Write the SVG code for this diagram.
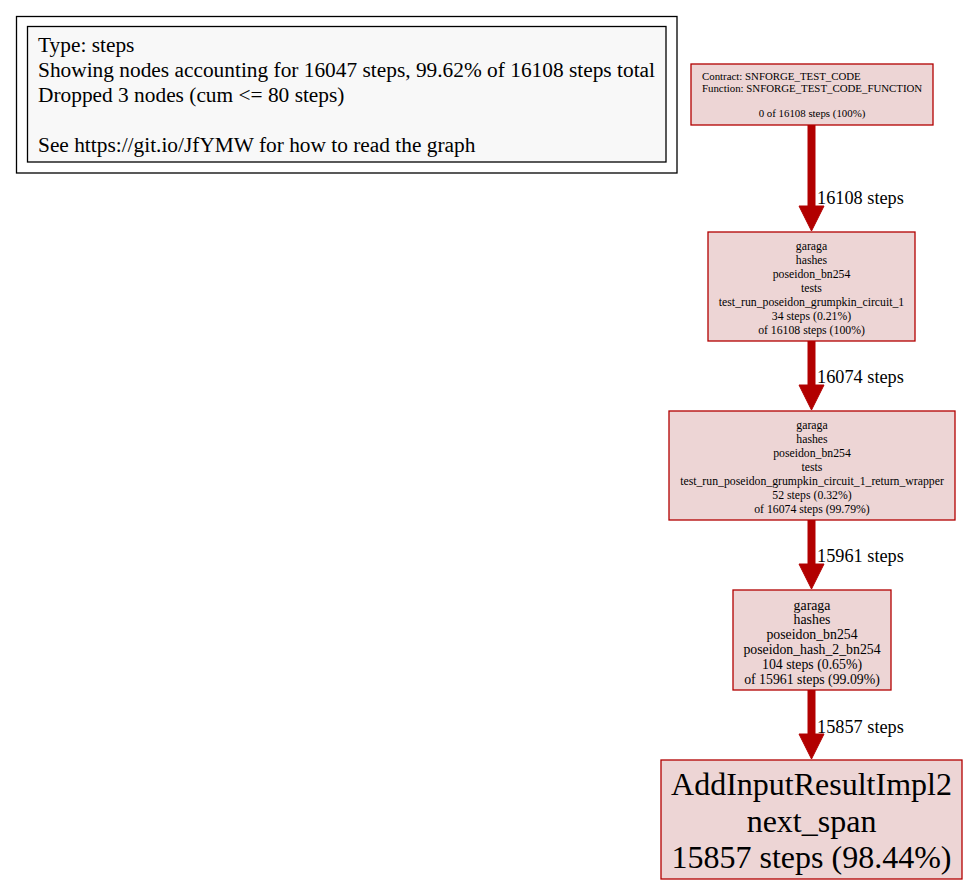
<svg xmlns="http://www.w3.org/2000/svg" width="969" height="885" viewBox="0 0 969 885">
<style>
text{font-family:"Liberation Serif","Times New Roman",serif;fill:#000}
.node rect{fill:#edd5d5;stroke:#b20000;stroke-width:1.3}
.edge line{stroke:#b20000;stroke-width:8}
.edge polygon{fill:#b20000;stroke:#b20000}
.el{font-size:18.3px}
.c{text-anchor:middle}
.f1{font-size:10.85px}
.f2{font-size:11.75px}
.f4{font-size:13.8px}
.f5{font-size:32px}
.lg{font-size:21.37px}
</style>
<rect width="969" height="885" fill="#fff"/>
<g id="legend">
<rect x="16.5" y="16.5" width="660.5" height="156.5" fill="#fff" stroke="#000" stroke-width="1.3"/>
<rect x="27.5" y="26.5" width="638.5" height="135.5" fill="#f8f8f8" stroke="#000" stroke-width="1.3"/>
<text class="lg" x="38" y="52">Type: steps</text>
<text class="lg" x="38" y="77">Showing nodes accounting for 16047 steps, 99.62% of 16108 steps total</text>
<text class="lg" x="38" y="102">Dropped 3 nodes (cum &lt;= 80 steps)</text>
<text class="lg" x="38" y="152">See https://git.io/JfYMW for how to read the graph</text>
</g>
<g id="connectors">
<g class="edge" id="e1">
<line x1="811.5" y1="125" x2="811.5" y2="207"/>
<polygon points="799,206 824,206 811.5,231"/>
<text class="el" x="817" y="204">16108 steps</text>
</g>
<g class="edge" id="e2">
<line x1="811.5" y1="341" x2="811.5" y2="386"/>
<polygon points="799,385 824,385 811.5,410"/>
<text class="el" x="817" y="383">16074 steps</text>
</g>
<g class="edge" id="e3">
<line x1="811.5" y1="520" x2="811.5" y2="565"/>
<polygon points="799,564 824,564 811.5,589"/>
<text class="el" x="817" y="562">15961 steps</text>
</g>
<g class="edge" id="e4">
<line x1="811.5" y1="690" x2="811.5" y2="735"/>
<polygon points="799,734 824,734 811.5,759"/>
<text class="el" x="817" y="733">15857 steps</text>
</g>
</g>
<g class="node" id="n1">
<rect x="691" y="64" width="242" height="61"/>
<text class="f1" x="702" y="79.5">Contract: SNFORGE_TEST_CODE</text>
<text class="f1" x="702" y="92">Function: SNFORGE_TEST_CODE_FUNCTION</text>
<text class="f1 c" x="812" y="117">0 of 16108 steps (100%)</text>
</g>
<g class="node" id="n2">
<rect x="708" y="232" width="207" height="109"/>
<text class="f2 c" x="811.5" y="249.5">garaga</text>
<text class="f2 c" x="811.5" y="263.5">hashes</text>
<text class="f2 c" x="811.5" y="277.5">poseidon_bn254</text>
<text class="f2 c" x="811.5" y="291.5">tests</text>
<text class="f2 c" x="811.5" y="305.5">test_run_poseidon_grumpkin_circuit_1</text>
<text class="f2 c" x="811.5" y="319.5">34 steps (0.21%)</text>
<text class="f2 c" x="811.5" y="333.5">of 16108 steps (100%)</text>
</g>
<g class="node" id="n3">
<rect x="669" y="411" width="286" height="109"/>
<text class="f2 c" x="812" y="429">garaga</text>
<text class="f2 c" x="812" y="443">hashes</text>
<text class="f2 c" x="812" y="457">poseidon_bn254</text>
<text class="f2 c" x="812" y="471">tests</text>
<text class="f2 c" x="812" y="485">test_run_poseidon_grumpkin_circuit_1_return_wrapper</text>
<text class="f2 c" x="812" y="499">52 steps (0.32%)</text>
<text class="f2 c" x="812" y="513">of 16074 steps (99.79%)</text>
</g>
<g class="node" id="n4">
<rect x="733" y="590" width="158" height="100"/>
<text class="f4 c" x="812" y="609.5">garaga</text>
<text class="f4 c" x="812" y="624.3">hashes</text>
<text class="f4 c" x="812" y="639.1">poseidon_bn254</text>
<text class="f4 c" x="812" y="653.9">poseidon_hash_2_bn254</text>
<text class="f4 c" x="812" y="668.7">104 steps (0.65%)</text>
<text class="f4 c" x="812" y="683.5">of 15961 steps (99.09%)</text>
</g>
<g class="node" id="n5">
<rect x="661" y="760" width="301" height="119"/>
<text class="f5 c" x="811.5" y="795">AddInputResultImpl2</text>
<text class="f5 c" x="811.5" y="831.5">next_span</text>
<text class="f5 c" x="811.5" y="868">15857 steps (98.44%)</text>
</g>
</svg>
